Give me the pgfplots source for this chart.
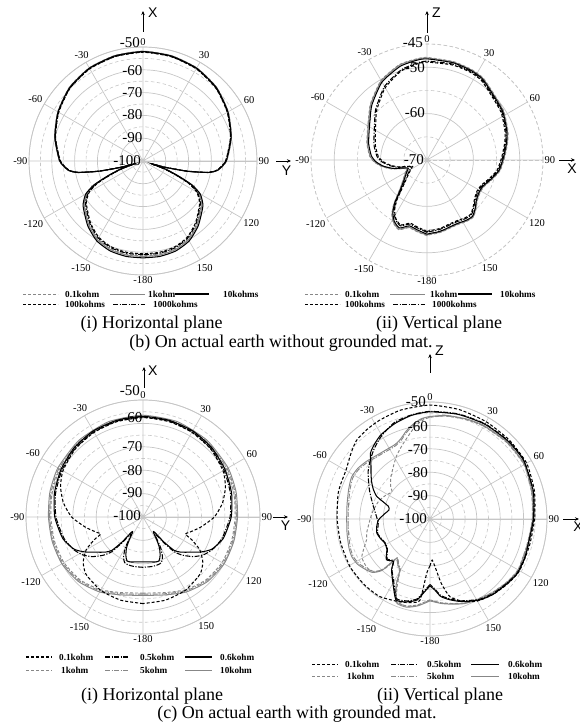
\documentclass[border=0pt]{standalone}
\usepackage{fontspec}
\setmainfont{Liberation Serif}
\setsansfont{Liberation Sans}
\usepackage{pgfplots}
\pgfplotsset{compat=1.18}
\usepgfplotslibrary{polar}
\usetikzlibrary{arrows.meta}
\definecolor{gridc}{RGB}{198,198,198}
\definecolor{cg}{RGB}{135,135,135}
\tikzset{
  sdash/.style={dash pattern=on 3pt off 2pt},
  sdd/.style={dash pattern=on 5pt off 1.5pt on 1.2pt off 1.5pt},
  bl/.style={black, line width=1.05pt},
  gl/.style={cg, line width=0.95pt},
  ar/.style={-{Stealth[length=4pt,width=3.5pt]}, line width=0.8pt},
}
\pgfplotsset{
  mypolar/.style={
    scale only axis, clip=false, anchor=origin,
    xmin=0, xmax=360, ymin=0,
    xtick={0,30,...,330},
    xticklabels={90,60,30,0,-30,-60,-90,-120,-150,-180,150,120},
    yticklabels={},
    grid=both,
    major grid style={draw=gridc, line width=0.7pt},
    minor grid style={draw=gridc, line width=0.6pt, dash pattern=on 3.5pt off 2.5pt},
    axis line style={draw=gridc, line width=0.7pt},
    major tick length=0pt, minor tick length=0pt,
    xticklabel style={font=\fontsize{10.5}{10.5}\selectfont, inner sep=1.5pt},
    x filter/.expression={90-x},
    every axis plot/.append style={smooth, tension=0.35},
  },
}
\newcommand{\rl}[3]{\node[anchor=east, inner sep=0pt, font=\fontsize{15}{15}\selectfont] at (#1pt,#2pt) {#3};}
\newcommand{\lt}[3]{\node[anchor=west, inner sep=0pt, font=\bfseries\fontsize{9.2}{9.2}\selectfont] at (#1pt,#2pt) {#3};}
\newcommand{\ax}[1]{\sffamily\fontsize{14}{14}\selectfont #1}
\newcommand{\capf}{\fontsize{18}{20}\selectfont}
\begin{document}
\begin{tikzpicture}
\useasboundingbox (0pt,0pt) rectangle (579pt,723pt);

% ---------------- (b)(i) horizontal plane ----------------
\begin{polaraxis}[mypolar, at={(143pt,562pt)}, width=228pt, height=228pt, ymax=50,
  ytick={0,10,...,50}, minor ytick={5,15,...,45}, y filter/.expression={y+100}]
\addplot[gl, sdash] coordinates {(-180,-58.4)(-170,-58.4)(-160,-58.9)(-150,-60.4)(-140,-63.4)(-132,-66.4)(-126,-68.4)(-120,-71.9)(-116,-76.9)(-113,-83.8)(-110,-89.8)(-108,-96)(-106,-90)(-103,-79.8)(-100,-70.8)(-97,-66.8)(-90,-63.3)(-75,-59.8)(-60,-56.8)(-45,-54.3)(-30,-52.8)(-15,-52.1)(0,-51.8)(15,-52.1)(30,-52.8)(45,-54.3)(60,-56.8)(75,-59.8)(90,-63.3)(97,-66.8)(100,-70.8)(103,-79.8)(106,-90)(108,-96)(110,-89.8)(113,-83.8)(116,-76.9)(120,-71.9)(126,-68.4)(132,-66.4)(140,-63.4)(150,-60.4)(160,-58.9)(170,-58.4)(180,-58.4)};
\addplot[gl] coordinates {(-180,-58.1)(-170,-58.1)(-160,-58.6)(-150,-60.1)(-140,-63.1)(-132,-66.1)(-126,-68.1)(-120,-71.6)(-116,-76.6)(-113,-83.5)(-110,-89.5)(-108,-96)(-106,-90)(-103,-80)(-100,-70.9)(-97,-66.9)(-90,-63.4)(-75,-59.9)(-60,-56.9)(-45,-54.4)(-30,-52.9)(-15,-52.2)(0,-51.9)(15,-52.2)(30,-52.9)(45,-54.4)(60,-56.9)(75,-59.9)(90,-63.4)(97,-66.9)(100,-70.9)(103,-80)(106,-90)(108,-96)(110,-89.5)(113,-83.5)(116,-76.6)(120,-71.6)(126,-68.1)(132,-66.1)(140,-63.1)(150,-60.1)(160,-58.6)(170,-58.1)(180,-58.1)};
\addplot[bl, sdash] coordinates {(-180,-59.3)(-170,-59.3)(-160,-59.8)(-150,-61.3)(-140,-64.3)(-132,-67.3)(-126,-69.3)(-120,-72.8)(-116,-77.8)(-113,-84.5)(-110,-90.5)(-108,-96.5)(-106,-90.5)(-103,-80.5)(-100,-71.4)(-97,-67.3)(-90,-63.8)(-75,-60.3)(-60,-57.3)(-45,-54.8)(-30,-53.3)(-15,-52.6)(0,-52.3)(15,-52.6)(30,-53.3)(45,-54.8)(60,-57.3)(75,-60.3)(90,-63.8)(97,-67.3)(100,-71.4)(103,-80.5)(106,-90.5)(108,-96.5)(110,-90.5)(113,-84.5)(116,-77.8)(120,-72.8)(126,-69.3)(132,-67.3)(140,-64.3)(150,-61.3)(160,-59.8)(170,-59.3)(180,-59.3)};
\addplot[bl, sdd] coordinates {(-180,-58.9)(-170,-58.9)(-160,-59.4)(-150,-60.9)(-140,-63.9)(-132,-66.9)(-126,-68.9)(-120,-72.4)(-116,-77.4)(-113,-84.2)(-110,-90.2)(-108,-96.3)(-106,-90.3)(-103,-80.3)(-100,-71.2)(-97,-67.2)(-90,-63.7)(-75,-60.2)(-60,-57.2)(-45,-54.7)(-30,-53.2)(-15,-52.5)(0,-52.2)(15,-52.5)(30,-53.2)(45,-54.7)(60,-57.2)(75,-60.2)(90,-63.7)(97,-67.2)(100,-71.2)(103,-80.3)(106,-90.3)(108,-96.3)(110,-90.2)(113,-84.2)(116,-77.4)(120,-72.4)(126,-68.9)(132,-66.9)(140,-63.9)(150,-60.9)(160,-59.4)(170,-58.9)(180,-58.9)};
\addplot[bl] coordinates {(-180,-57.5)(-170,-57.5)(-160,-58)(-150,-59.5)(-140,-62.5)(-132,-65.5)(-126,-67.5)(-120,-71)(-116,-76)(-113,-83)(-110,-89)(-108,-96)(-106,-90)(-103,-80)(-100,-71)(-97,-67)(-90,-63.5)(-75,-60)(-60,-57)(-45,-54.5)(-30,-53)(-15,-52.3)(0,-52)(15,-52.3)(30,-53)(45,-54.5)(60,-57)(75,-60)(90,-63.5)(97,-67)(100,-71)(103,-80)(106,-90)(108,-96)(110,-89)(113,-83)(116,-76)(120,-71)(126,-67.5)(132,-65.5)(140,-62.5)(150,-59.5)(160,-58)(170,-57.5)(180,-57.5)};
\end{polaraxis}

% ---------------- (b)(ii) vertical plane ----------------
\begin{polaraxis}[mypolar, at={(427pt,563pt)}, width=232pt, height=232pt, ymax=25,
  ytick={0,10,20}, minor ytick={5,15,25}, y filter/.expression={y+70},
  axis line style={draw=gridc, line width=0.6pt, dash pattern=on 3.5pt off 2.5pt}]
\addplot[gl, sdash] coordinates {(-180,-53.7)(-172,-54.4)(-165,-54.9)(-158,-53.8)(-152,-54.6)(-147,-56.1)(-143,-58.1)(-140,-60.1)(-135,-62.1)(-128,-63.6)(-120,-64.6)(-114,-65.2)(-110,-64.6)(-104,-62.1)(-98,-60.1)(-92,-58.6)(-86,-57.6)(-75,-56.6)(-66,-55.9)(-55,-54.6)(-45,-52.8)(-30,-50.2)(-16,-48.6)(-6,-48.1)(0,-47.9)(15,-48.05)(26,-48.25)(34,-48.55)(42,-49.45)(57,-50.35)(70,-51.45)(78,-52.25)(88,-53.25)(98,-54.05)(106,-55.25)(115,-56.45)(122,-56.55)(129,-56.05)(135,-55.05)(141,-54.15)(147,-54.25)(153,-54.55)(160,-54.55)(167,-54.25)(172,-54.05)(177,-53.95)(180,-53.7)};
\addplot[gl] coordinates {(-180,-53.8)(-172,-54.5)(-165,-55)(-158,-53.9)(-152,-54.7)(-147,-56.2)(-143,-58.2)(-140,-60.2)(-135,-62.2)(-128,-63.7)(-120,-64.7)(-114,-65.3)(-110,-64.7)(-104,-62.2)(-98,-60.2)(-92,-58.7)(-86,-57.7)(-75,-56.7)(-66,-56)(-55,-54.7)(-45,-52.9)(-30,-50.3)(-16,-48.7)(-6,-48.2)(0,-48)(15,-48.15)(26,-48.35)(34,-48.65)(42,-49.55)(57,-50.45)(70,-51.55)(78,-52.35)(88,-53.35)(98,-54.15)(106,-55.35)(115,-56.55)(122,-56.65)(129,-56.15)(135,-55.15)(141,-54.25)(147,-54.35)(153,-54.65)(160,-54.65)(167,-54.35)(172,-54.15)(177,-54.05)(180,-53.8)};
\addplot[bl, sdash] coordinates {(-180,-54.6)(-172,-55.4)(-165,-55.9)(-158,-54.9)(-152,-55.7)(-147,-57.2)(-143,-59.2)(-140,-61.2)(-135,-63.3)(-128,-64.9)(-120,-66)(-114,-66.6)(-110,-66.1)(-104,-63.8)(-98,-62)(-92,-60.5)(-86,-59.5)(-75,-58.5)(-66,-57.8)(-55,-56.5)(-45,-54.7)(-30,-52)(-16,-50)(-6,-49.2)(0,-48.9)(15,-48.8)(26,-48.9)(34,-49.2)(42,-50.1)(57,-51)(70,-52.1)(78,-52.9)(88,-53.9)(98,-54.7)(106,-55.9)(115,-57.1)(122,-57.3)(129,-56.8)(135,-55.9)(141,-55)(147,-55.1)(153,-55.4)(160,-55.4)(167,-55.1)(172,-54.9)(177,-54.8)(180,-54.6)};
\addplot[bl, sdd] coordinates {(-180,-54.4)(-172,-55.2)(-165,-55.7)(-158,-54.7)(-152,-55.5)(-147,-57)(-143,-59)(-140,-61)(-135,-63)(-128,-64.6)(-120,-65.7)(-114,-66.3)(-110,-65.8)(-104,-63.5)(-98,-61.7)(-92,-60.2)(-86,-59.2)(-75,-58.2)(-66,-57.5)(-55,-56.2)(-45,-54.4)(-30,-51.7)(-16,-49.8)(-6,-49)(0,-48.7)(15,-48.6)(26,-48.7)(34,-49)(42,-49.9)(57,-50.8)(70,-51.9)(78,-52.7)(88,-53.7)(98,-54.5)(106,-55.7)(115,-56.9)(122,-57.1)(129,-56.6)(135,-55.7)(141,-54.8)(147,-54.9)(153,-55.2)(160,-55.2)(167,-54.9)(172,-54.7)(177,-54.6)(180,-54.4)};
\addplot[bl] coordinates {(-180,-54)(-172,-54.8)(-165,-55.3)(-158,-54.2)(-152,-55)(-147,-56.5)(-143,-58.5)(-140,-60.5)(-135,-62.5)(-128,-64)(-120,-65)(-114,-65.6)(-110,-65)(-104,-62.5)(-98,-60.5)(-92,-59)(-86,-58)(-75,-57)(-66,-56.3)(-55,-55)(-45,-53.2)(-30,-50.6)(-16,-49)(-6,-48.4)(0,-48.2)(15,-48.3)(26,-48.5)(34,-48.8)(42,-49.7)(57,-50.6)(70,-51.7)(78,-52.5)(88,-53.5)(98,-54.3)(106,-55.5)(115,-56.7)(122,-56.8)(129,-56.3)(135,-55.3)(141,-54.4)(147,-54.5)(153,-54.8)(160,-54.8)(167,-54.5)(172,-54.3)(177,-54.2)(180,-54)};
\end{polaraxis}

% ---------------- (c)(i) horizontal plane ----------------
\begin{polaraxis}[mypolar, at={(143pt,206pt)}, width=234pt, height=234pt, ymax=50,
  ytick={0,10,...,50}, minor ytick={5,15,...,45}, y filter/.expression={y+100}]
\addplot[gl] coordinates {(-180,-66.5)(-165,-65.5)(-150,-63)(-135,-61)(-120,-60)(-105,-59.8)(-90,-59.6)(-75,-58.8)(-60,-58)(-40,-57.3)(-20,-56.7)(0,-56.5)(20,-56.7)(40,-57.3)(60,-58)(75,-58.8)(90,-59.6)(105,-59.8)(120,-60)(135,-61)(150,-63)(165,-65.5)(180,-66.5)};
\addplot[gl, sdd] coordinates {(-180,-67)(-165,-66)(-150,-63.5)(-135,-61.5)(-120,-60.5)(-105,-60.3)(-90,-60.1)(-75,-59.3)(-60,-58.5)(-40,-57.8)(-20,-57.2)(0,-57)(20,-57.2)(40,-57.8)(60,-58.5)(75,-59.3)(90,-60.1)(105,-60.3)(120,-60.5)(135,-61.5)(150,-63.5)(165,-66)(180,-67)};
\addplot[gl, sdash] coordinates {(-180,-67.5)(-165,-66.5)(-150,-64)(-135,-62)(-120,-61)(-105,-60.8)(-90,-60.6)(-75,-59.8)(-60,-59)(-40,-58.3)(-20,-57.7)(0,-57.5)(20,-57.7)(40,-58.3)(60,-59)(75,-59.8)(90,-60.6)(105,-60.8)(120,-61)(135,-62)(150,-64)(165,-66.5)(180,-67.5)};
\addplot[bl, sdash] coordinates {(-180,-63)(-165,-63.2)(-150,-63.8)(-135,-65.5)(-127,-68)(-120,-72)(-115,-77)(-112,-80.5)(-108,-79)(-100,-75)(-90,-69.5)(-80,-65.5)(-70,-62.5)(-60,-60.5)(-45,-59)(-30,-58.2)(-15,-57.7)(0,-57.5)(15,-57.7)(30,-58.2)(45,-59)(60,-60.5)(70,-62.5)(80,-65.5)(90,-69.5)(100,-75)(108,-79)(112,-80.5)(115,-77)(120,-72)(127,-68)(135,-65.5)(150,-63.8)(165,-63.2)(180,-63)};
\addplot[bl, sdd] coordinates {(-180,-78.5)(-170,-78.5)(-163,-78.6)(-158,-79)(-154,-81)(-150,-85)(-147,-90)(-144,-91)(-141,-86)(-138,-80)(-134,-76.5)(-128,-72.5)(-122,-69.5)(-115,-67.2)(-105,-65)(-90,-62.8)(-75,-61.3)(-60,-60)(-45,-58.8)(-30,-58)(-15,-57.5)(0,-57.3)(15,-57.5)(30,-58)(45,-58.8)(60,-60)(75,-61.3)(90,-62.8)(105,-65)(115,-67.2)(122,-69.5)(128,-72.5)(134,-76.5)(138,-80)(141,-86)(144,-91)(147,-90)(150,-85)(154,-81)(158,-79)(163,-78.6)(170,-78.5)(180,-78.5)};
\addplot[bl] coordinates {(-180,-80.8)(-170,-80.5)(-165,-80.1)(-160,-80)(-156,-82)(-152,-85)(-149,-88.5)(-146,-92)(-143,-92)(-140,-86)(-137,-80.5)(-133,-78)(-127,-75)(-121,-71)(-115,-67.5)(-105,-64.5)(-90,-62.3)(-75,-60.8)(-60,-59.5)(-45,-58.3)(-30,-57.5)(-15,-57.2)(0,-57)(15,-57.2)(30,-57.5)(45,-58.3)(60,-59.5)(75,-60.8)(90,-62.3)(105,-64.5)(115,-67.5)(121,-71)(127,-75)(133,-78)(137,-80.5)(140,-86)(143,-92)(146,-92)(149,-88.5)(152,-85)(156,-82)(160,-80)(165,-80.1)(170,-80.5)(180,-80.8)};
\end{polaraxis}

% ---------------- (c)(ii) vertical plane ----------------
\begin{polaraxis}[mypolar, at={(430pt,204pt)}, width=234pt, height=234pt, ymax=50,
  ytick={0,10,...,50}, minor ytick={5,15,...,45}, y filter/.expression={y+100}]
\addplot[gl, sdash] coordinates {(-180,-65.5)(-172,-63)(-165,-61.5)(-158,-62)(-154,-68)(-150,-74)(-145,-76)(-140,-77.5)(-138,-72)(-134,-67.5)(-128,-66)(-119,-66.7)(-108,-71.5)(-102.7,-72.2)(-85,-75)(-71.5,-76.7)(-62,-78.5)(-54.5,-80)(-50,-78)(-43,-75.5)(-35,-72.7)(-28,-69.5)(-20,-66)(-10,-60.5)(-5,-58)(0,-56.5)(9,-55.5)(20,-54.8)(30,-54.2)(45,-53.7)(60,-53.6)(75,-55.1)(90,-56.3)(105,-57.1)(120,-56.6)(130,-57.6)(140,-58.9)(150,-60.3)(158,-61.3)(165,-62.6)(172,-63.8)(177,-64.8)(180,-65.5)};
\addplot[gl, sdd] coordinates {(-180,-65.3)(-172,-62.8)(-165,-61.4)(-158,-62)(-153,-68.5)(-149.5,-75)(-145,-76.5)(-139.7,-78.3)(-137,-70.6)(-133,-67.1)(-128,-65.6)(-122,-64.1)(-116,-63.5)(-110,-63.8)(-100,-64.6)(-90,-65)(-80,-64.6)(-70,-63.6)(-62,-62.6)(-55,-62.9)(-48,-63.9)(-40,-65.1)(-32,-65.6)(-25,-65.4)(-20,-64.1)(-15,-61.6)(-10,-59.3)(-5,-57.3)(0,-56.4)(9,-55.4)(20,-54.7)(30,-54.1)(45,-53.6)(60,-53.5)(75,-55)(90,-56.2)(105,-57)(120,-56.5)(130,-57.5)(140,-58.8)(150,-60.2)(158,-61.2)(165,-62.5)(172,-63.7)(177,-64.7)(180,-65.3)};
\addplot[gl] coordinates {(-180,-65)(-172,-62.5)(-165,-61)(-158,-61.5)(-153,-68)(-149.5,-74.7)(-145,-76)(-139.7,-78)(-137,-70)(-133,-66.5)(-128,-65)(-122,-63.5)(-116,-62.9)(-110,-63.2)(-100,-64)(-90,-64.4)(-80,-64)(-70,-63)(-62,-62)(-55,-62.3)(-48,-63.3)(-40,-64.5)(-32,-65)(-25,-64.8)(-20,-63.5)(-15,-61)(-10,-58.8)(-5,-57)(0,-56.2)(9,-55.2)(20,-54.5)(30,-53.9)(45,-53.4)(60,-53.3)(75,-54.8)(90,-56)(105,-56.8)(120,-56.3)(130,-57.3)(140,-58.6)(150,-60)(158,-61)(165,-62.3)(172,-63.5)(177,-64.5)(180,-65)};
\addplot[bl, sdash] coordinates {(-180,-80)(-176.5,-76.7)(-173,-65.1)(-168,-63.5)(-160,-62.3)(-147,-60.5)(-135,-60.3)(-121,-60.2)(-105,-60.5)(-90,-60.3)(-75,-59.3)(-68,-59)(-60,-58.5)(-50,-56)(-43,-54)(-35,-53.2)(-27,-52.6)(-15,-51.8)(0,-51.3)(15,-51.6)(30,-52)(45,-52.2)(60,-52.3)(75,-53.8)(90,-55.3)(105,-56)(120,-55.8)(130,-56.8)(140,-58)(150,-59.5)(158,-62)(165.6,-65.7)(170,-72)(174,-79.5)(177,-82.4)(180,-80)};
\addplot[bl, sdd] coordinates {(-180,-72)(-176,-69.5)(-171,-65.5)(-166,-64)(-162,-63.3)(-157,-63.2)(-150,-69)(-143,-73)(-139,-76.3)(-133,-75)(-125,-77.8)(-118,-78.3)(-112,-77.6)(-105,-76.8)(-95,-77.8)(-88,-77.2)(-80,-75.8)(-72,-73.8)(-65,-71.5)(-58,-69)(-52,-66.5)(-45,-64)(-38,-61.5)(-30,-58.8)(-20,-56)(-10,-54.8)(0,-54)(15,-53.5)(30,-53)(45,-52.7)(58,-52.7)(75,-54.3)(90,-55.7)(104,-56.6)(112,-56.3)(122,-56.2)(130,-57.2)(140,-58.3)(148,-59.6)(154,-61.3)(160,-62.8)(166,-64.8)(172,-67)(176,-70)(180,-72)};
\addplot[bl] coordinates {(-180,-71.4)(-176,-69)(-171,-65)(-166,-63.6)(-162,-62.8)(-157,-62.6)(-150,-68.3)(-143,-72.7)(-139,-76)(-133,-74.5)(-125,-77.5)(-118,-78.1)(-112,-77.3)(-105,-76.5)(-98,-77)(-91,-78)(-83,-80.6)(-78,-82)(-73,-81.4)(-67,-75.3)(-62,-72.5)(-57,-70.2)(-52,-68)(-47,-65.5)(-42,-62)(-36,-60)(-30,-58.3)(-20,-56.5)(-10,-55)(0,-54.2)(15,-53.7)(30,-53.2)(45,-52.9)(58,-52.8)(75,-54.3)(90,-55.8)(104,-56.7)(112,-56.2)(122,-56)(130,-57)(140,-58)(148,-59.3)(154,-61)(160,-62.5)(166,-64.4)(172,-66.5)(176,-69.5)(180,-71.4)};
\end{polaraxis}

% ---------------- radial labels ----------------
\rl{140}{680}{-50}\rl{142.5}{652}{-60}\rl{142.5}{630}{-70}\rl{142.5}{608}{-80}\rl{142.5}{585}{-90}\rl{141}{562}{-100}
\rl{423}{680}{-45}\rl{425}{655}{-50}\rl{425}{610}{-60}\rl{424}{563}{-70}
\rl{140}{332}{-50}\rl{142.5}{305}{-60}\rl{142.5}{276}{-70}\rl{142.5}{252}{-80}\rl{142.5}{230}{-90}\rl{141}{207}{-100}
\rl{426}{321}{-50}\rl{428}{296}{-60}\rl{428}{273}{-70}\rl{428}{250}{-80}\rl{428}{227}{-90}\rl{427}{204}{-100}

% ---------------- axis arrows ----------------
\draw[ar] (143pt,691pt) -- (143pt,712pt); \node[anchor=west, inner sep=0pt] at (148pt,710pt) {\ax{X}};
\draw[ar] (276pt,562pt) -- (291pt,562pt); \node[inner sep=0pt] at (286.5pt,552pt) {\ax{Y}};
\draw[ar] (427pt,690pt) -- (427pt,712pt); \node[anchor=west, inner sep=0pt] at (432pt,710pt) {\ax{Z}};
\draw[ar] (559pt,563pt) -- (575pt,563pt); \node[inner sep=0pt] at (572pt,554pt) {\ax{X}};
\draw[ar] (144pt,335pt) -- (144pt,356pt); \node[anchor=west, inner sep=0pt] at (148pt,352pt) {\ax{X}};
\draw[ar] (273pt,206pt) -- (288pt,206pt); \node[inner sep=0pt] at (285.5pt,197pt) {\ax{Y}};
\draw[ar] (430pt,350pt) -- (430pt,369pt); \node[anchor=west, inner sep=0pt] at (435pt,372pt) {\ax{Z}};
\draw[ar] (563pt,204pt) -- (579pt,204pt); \node[inner sep=0pt] at (578pt,196pt) {\ax{X}};

% ---------------- legends ----------------
\draw[gl, sdash] (23pt,429pt) -- (58pt,429pt); \lt{65}{429}{0.1kohm}
\draw[gl] (110pt,429pt) -- (145pt,429pt); \lt{148}{429}{1kohm}
\draw[bl] (175pt,429pt) -- (209pt,429pt); \lt{223}{429}{10kohms}
\draw[bl, sdash] (23pt,418.3pt) -- (58pt,418.3pt); \lt{65}{418.3}{100kohms}
\draw[bl, sdd] (113pt,418.3pt) -- (145pt,418.3pt); \lt{153}{418.3}{1000kohms}

\draw[gl, sdash] (305pt,429pt) -- (340pt,429pt); \lt{345}{429}{0.1kohm}
\draw[gl] (390pt,429pt) -- (425pt,429pt); \lt{430}{429}{1kohm}
\draw[bl] (458pt,429pt) -- (492pt,429pt); \lt{500}{429}{10kohms}
\draw[bl, sdash] (305pt,418.3pt) -- (340pt,418.3pt); \lt{345}{418.3}{100kohms}
\draw[bl, sdd] (393pt,418.3pt) -- (425pt,418.3pt); \lt{432}{418.3}{1000kohms}

\draw[bl, sdash] (26pt,66pt) -- (52pt,66pt); \lt{59}{66}{0.1kohm}
\draw[bl, sdd] (105pt,66pt) -- (129pt,66pt); \lt{140}{66}{0.5kohm}
\draw[bl] (185pt,66pt) -- (212pt,66pt); \lt{220}{66}{0.6kohm}
\draw[gl, sdash] (26pt,53pt) -- (52pt,53pt); \lt{61}{53}{1kohm}
\draw[gl, sdd] (105pt,53pt) -- (129pt,53pt); \lt{140}{53}{5kohm}
\draw[gl] (185pt,53pt) -- (212pt,53pt); \lt{220}{53}{10kohm}

\draw[bl, sdash] (312pt,58.5pt) -- (338pt,58.5pt); \lt{345}{58.5}{0.1kohm}
\draw[bl, sdd] (391pt,58.5pt) -- (417pt,58.5pt); \lt{427}{58.5}{0.5kohm}
\draw[bl] (471pt,58.5pt) -- (499pt,58.5pt); \lt{508}{58.5}{0.6kohm}
\draw[gl, sdash] (312pt,46.5pt) -- (338pt,46.5pt); \lt{347}{46.5}{1kohm}
\draw[gl, sdd] (391pt,46.5pt) -- (417pt,46.5pt); \lt{427}{46.5}{5kohm}
\draw[gl] (471pt,46.5pt) -- (499pt,46.5pt); \lt{508}{46.5}{10kohm}

% ---------------- captions ----------------
\node[font=\capf, anchor=base, inner sep=0pt] at (151.5pt,394.5pt) {(i) Horizontal plane};
\node[font=\capf, anchor=base, inner sep=0pt] at (439pt,394.5pt) {(ii) Vertical plane};
\node[font=\capf, anchor=base, inner sep=0pt] at (281pt,375.7pt) {(b) On actual earth without grounded mat.};
\node[font=\capf, anchor=base, inner sep=0pt] at (152pt,23pt) {(i) Horizontal plane};
\node[font=\capf, anchor=base, inner sep=0pt] at (440pt,23pt) {(ii) Vertical plane};
\node[font=\capf, anchor=base, inner sep=0pt] at (297pt,4.5pt) {(c) On actual earth with grounded mat.};
\end{tikzpicture}
\end{document}
